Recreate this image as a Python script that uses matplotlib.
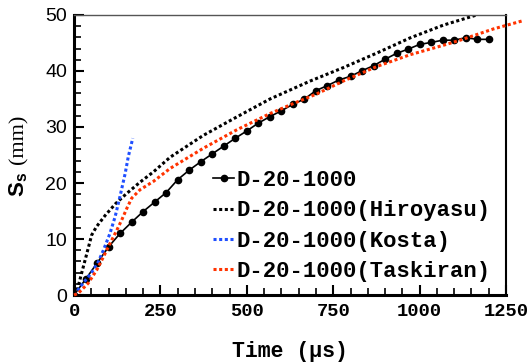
import matplotlib
matplotlib.use("Agg")
import matplotlib.pyplot as plt
import numpy as np

# measured spray tip penetration, D-20-1000
t_exp = [0, 33.3, 66.7, 100, 133.3, 166.7, 200, 233.3, 266.7, 300, 333.3, 366.7,
         400, 433.3, 466.7, 500, 533.3, 566.7, 600, 633.3, 666.7, 700, 733.3,
         766.7, 800, 833.3, 866.7, 900, 933.3, 966.7, 1000, 1033.3, 1066.7,
         1100, 1133.3, 1166.7, 1200]
s_exp = [0, 2.8, 5.7, 8.6, 11.0, 13.0, 14.9, 16.6, 18.3, 20.6, 22.3, 23.8,
         25.2, 26.6, 28.0, 29.3, 30.7, 31.85, 32.9, 34.05, 35.0, 36.5, 37.4,
         38.4, 39.05, 40.05, 40.95, 42.1, 43.15, 43.9, 44.75, 45.1, 45.5,
         45.5, 45.95, 45.65, 45.65]

# Hiroyasu correlation
t_hiro = [0, 8, 22, 37, 51, 65, 90, 120, 150, 190, 230, 278, 374, 471, 567,
          683, 779, 876, 972, 1069, 1165]
s_hiro = [0, 0.6, 3.9, 7.4, 10.7, 12.2, 14.2, 16.3, 18.0, 20.1, 22.0, 24.6,
          28.5, 31.8, 35.0, 38.2, 40.6, 43.2, 45.9, 48.2, 50.0]

# Kosta correlation
t_kosta = [0, 25, 50, 70, 85, 104, 119, 133, 148, 157, 170]
s_kosta = [0, 2.0, 3.9, 5.9, 8.0, 11.0, 14.0, 17.6, 21.7, 24.7, 28.0]

# Taskiran correlation
t_task = [0, 12, 41, 66, 85, 104, 124, 138, 153, 167, 191, 230, 278, 374, 471,
          567, 635, 702, 779, 876, 972, 1069, 1117, 1213, 1300]
s_task = [0, 0.3, 2.1, 4.5, 6.8, 9.2, 11.6, 13.4, 15.5, 17.3, 18.8, 20.3,
          22.6, 26.2, 29.5, 32.4, 34.2, 35.9, 38.2, 40.8, 42.9, 44.6, 45.5,
          47.5, 49.0]

labels = ["D-20-1000", "D-20-1000(Hiroyasu)", "D-20-1000(Kosta)",
          "D-20-1000(Taskiran)"]

mono = "Liberation Mono"

fig = plt.figure(figsize=(5.31, 3.63), dpi=100)
ax = fig.add_axes([0.1394, 0.1873, 0.8136, 0.7714])

dots = (0, (1, 0.85))
ax.plot(t_exp, s_exp, "-o", color="black", lw=1.2, ms=4.5, label=labels[0])
ax.plot(t_hiro, s_hiro, color="black", lw=2.2, ls=dots, label=labels[1])
ax.plot(t_kosta, s_kosta, color="#1f4fff", lw=2.2, ls=dots, label=labels[2])
ax.plot(t_task, s_task, color="#ff3300", lw=2.2, ls=dots, label=labels[3],
        clip_on=False, zorder=5)

ax.set_xlim(0, 1250)
ax.set_ylim(0, 50)
ax.set_xticks([0, 250, 500, 750, 1000, 1250])
ax.set_yticks([0, 10, 20, 30, 40, 50])
ax.set_xticks(np.arange(0, 1251, 50), minor=True)
ax.set_yticks(np.arange(0, 51, 2), minor=True)

ax.tick_params(which="major", direction="in", length=7, width=1.5,
               top=False, right=False)
ax.tick_params(which="minor", direction="in", length=5, width=1.2,
               top=False, right=False)
ax.tick_params(axis="x", pad=6)
ax.tick_params(axis="y", pad=5)
for lab in ax.get_xticklabels():
    lab.set_fontfamily(mono)
    lab.set_fontweight("bold")
    lab.set_fontsize(13.5)
for lab in ax.get_yticklabels():
    lab.set_fontfamily("Liberation Sans")
    lab.set_fontsize(14)

ax.spines["left"].set_linewidth(2.2)
ax.spines["bottom"].set_linewidth(2.2)
ax.spines["right"].set_linewidth(1.5)
ax.spines["top"].set_linewidth(1.0)
ax.spines["top"].set_color("#555555")

ax.set_xlabel("Time (µs)", fontfamily=mono, fontweight="bold", fontsize=15.5,
              labelpad=15)
ax.text(-0.127, 0.393, r"S$_\mathregular{s}$", rotation=90, transform=ax.transAxes,
        ha="center", va="center", fontfamily="Liberation Sans", fontweight="bold",
        fontsize=16)
ax.text(-0.127, 0.557, "(mm)", rotation=90, transform=ax.transAxes,
        ha="center", va="center", fontfamily="Liberation Serif", fontsize=16)

ax.legend(loc="lower right", bbox_to_anchor=(1.0, -0.009), frameon=False,
          prop={"family": mono, "weight": "bold", "size": 16},
          handlelength=0.95, handletextpad=0.1, labelspacing=0.42,
          borderpad=0.2)

fig.savefig("out.png", dpi=100)
